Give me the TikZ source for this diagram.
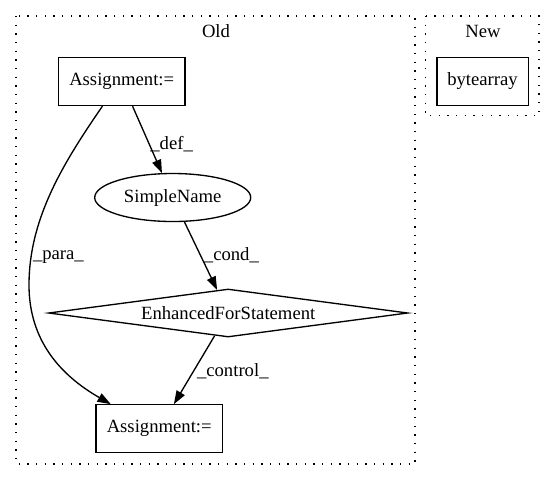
\documentclass[tikz,border=0pt]{standalone}
\usepackage{fontspec}
\setmainfont{Liberation Serif}
\usetikzlibrary{shapes.geometric,arrows.meta}
\begin{document}
\begin{tikzpicture}[x=0.75pt,y=-0.75pt,
  every node/.style={font=\fontsize{14pt}{16pt}\selectfont, inner sep=0pt},
  cluster/.style={draw, line width=1pt, dash pattern=on 1pt off 5.5pt},
  boxnode/.style={draw, line width=1pt, minimum height=36pt},
  ellnode/.style={draw, ellipse, line width=1pt, minimum width=117pt, minimum height=36pt},
  dianode/.style={draw, diamond, line width=1pt, minimum width=269.5pt, minimum height=36pt, aspect=7.5},
  edge/.style={draw, line width=1pt, -{Triangle[length=10pt,width=7pt]}},
  lbl/.style={}]
\useasboundingbox (0,0) rectangle (552,480);
\draw[cluster] (16,16) rectangle (415,464);
\draw[cluster] (425.7,16) rectangle (539,115.7);
\node (old) at (216,31) {Old};
\node (new) at (483,31) {New};
\node[boxnode, minimum width=95pt] (A1) at (121.7,81.5) {Assignment:=};
\node[boxnode, minimum width=68.5pt] (B) at (482.5,81.5) {bytearray};
\node[ellnode] (SN) at (172.7,197.5) {SimpleName};
\node[dianode] (EF) at (228.2,313) {EnhancedForStatement};
\node[boxnode, minimum width=95pt] (A2) at (159.2,428.8) {Assignment:=};
\draw[edge] (A1) -- (SN);
\draw[edge] (SN) -- (EF);
\draw[edge] (EF) -- (A2);
\draw[edge] (A1.232) .. controls (64,162) and (29,218) .. (29,285) .. controls (29,340) and (60,375) .. (A2.153);
\node[lbl] (ldef) at (171.6,144) {\_def\_};
\node[lbl] (lpara) at (58.4,256.7) {\_para\_};
\node[lbl] (lcond) at (231.4,255) {\_cond\_};
\node[lbl] (lcontrol) at (232.8,371.7) {\_control\_};
\end{tikzpicture}
\end{document}
